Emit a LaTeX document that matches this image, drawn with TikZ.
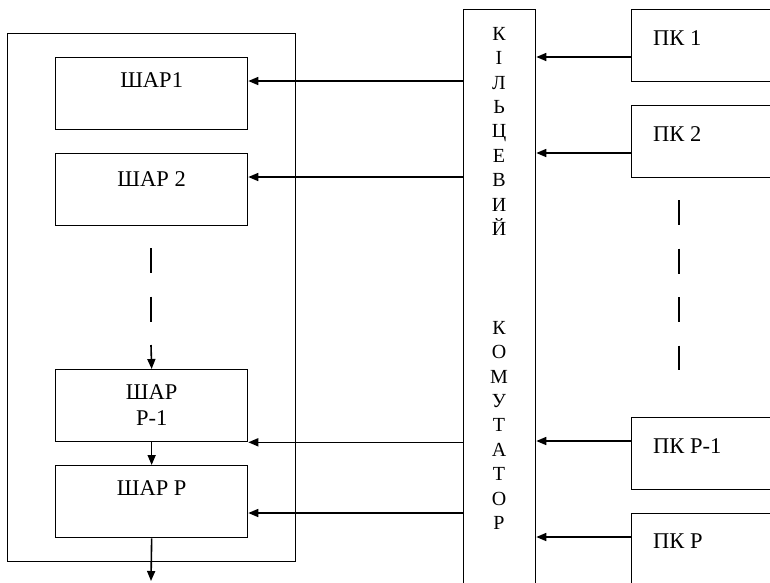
\documentclass[tikz,border=0pt]{standalone}
\usepackage{fontspec}
\setmainfont{Liberation Serif}
\usetikzlibrary{arrows.meta}

\begin{document}
\begin{tikzpicture}[
    x=1pt, y=-1pt,
    box/.style={draw, line width=1.3pt, anchor=north west, inner sep=0pt,
                minimum width=192pt, minimum height=72pt},
    pkbox/.style={box, minimum width=180pt},
    shartitle/.style={anchor=north, inner sep=0pt, yshift=-15pt, align=center,
                font=\fontsize{22.5}{26}\selectfont},
    pktitle/.style={anchor=north west, inner sep=0pt, xshift=22pt, yshift=-21pt,
                font=\fontsize{22.5}{26}\selectfont},
    letters/.style={anchor=north, inner sep=0pt, align=center,
                font=\fontsize{20}{24.4}\selectfont},
    arrow/.style={-{Triangle[length=10pt, width=8pt]}, line width=1.6pt},
    skipline/.style={line width=1.3pt, dash pattern=on 25pt off 23.5pt}
]
\useasboundingbox (0,0) rectangle (770,582);
\clip (0,0) rectangle (770,582);

% ШАР block
\node[box, minimum width=288pt, minimum height=528pt] (shars) at (7,33) {};
\node[box, label={[shartitle]north:ШАР1}] (shar1) at (55,57) {};
\node[box, label={[shartitle, yshift=-3pt]north:ШАР 2}] (shar2) at (55,153) {};
\node[box, label={[shartitle]north:ШАР\\Р-1}] (sharp1) at (55,369) {};
\node[box, label={[shartitle]north:ШАР Р}] (sharp) at (55,465) {};

% ring switch
\node[box, minimum width=72pt, minimum height=620pt] (komm) at (463,9) {};
\node[letters] (kilts) at (499,27) {К\\І\\Л\\Ь\\Ц\\Е\\В\\И\\Й};
\node[letters] (komut) at (499,321) {К\\О\\М\\У\\Т\\А\\Т\\О\\Р};

% ПК blocks
\node[pkbox, label={[pktitle]north west:ПК 1}] (pk1) at (631,9) {};
\node[pkbox, label={[pktitle]north west:ПК 2}] (pk2) at (631,105) {};
\node[pkbox, label={[pktitle]north west:ПК Р-1}] (pkp1) at (631,417) {};
\node[pkbox, label={[pktitle]north west:ПК Р}] (pkp) at (631,513) {};

% Arrows
\draw[arrow] (pk1.west |- 0,57) -- (komm.east |- 0,57);
\draw[arrow] (pk2.west |- 0,153) -- (komm.east |- 0,153);
\draw[arrow] (pkp1.west |- 0,441) -- (komm.east |- 0,441);
\draw[arrow] (pkp.west |- 0,537) -- (komm.east |- 0,537);

\draw[arrow] (komm.west |- 0,81) -- (shar1.east |- 0,81);
\draw[arrow] (komm.west |- 0,177) -- (shar2.east |- 0,177);
\draw[arrow] (komm.west |- sharp1.south east) -- (sharp1.south east);
\draw[arrow] (komm.west |- 0,513) -- (sharp.east |- 0,513);

\coordinate (dots) at (151,345);
\coordinate (out) at (151,581);
\draw[skipline] (151,248) -- (151,322);
\draw[arrow] (dots) -- (sharp1.north);
\draw[arrow] (sharp1.south) -- (sharp.north);
\draw[arrow] (sharp.south) -- (out);

\draw[skipline] (679,200) -- (679,370);
\end{tikzpicture}
\end{document}
